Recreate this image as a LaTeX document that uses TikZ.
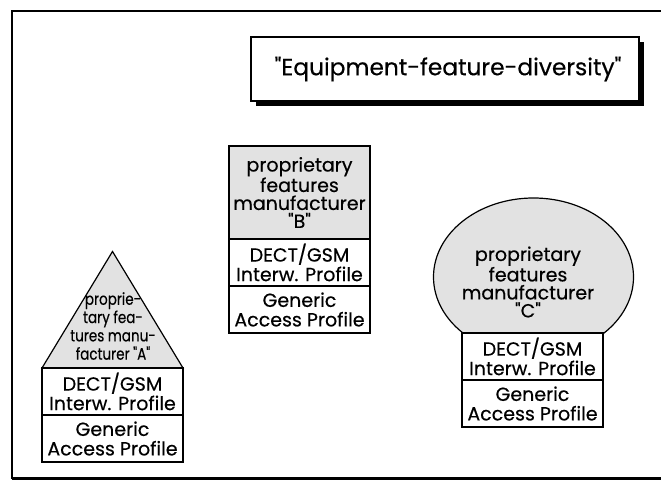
\documentclass[tikz,border=0pt]{standalone}
\usepackage{fontspec}
\setmainfont{Poppins}[Ligatures=TeXOff, FakeBold=0.4]
\newfontfamily\narrowfont{Poppins}[Ligatures=TeXOff, FakeBold=0.4, FakeStretch=0.82]
\usetikzlibrary{shapes.geometric}
\newcommand{\layerfont}{\fontsize{19}{19.5}\selectfont}
\newcommand{\propfont}{\fontsize{19}{18}\selectfont}
\newcommand{\tipfont}{\narrowfont\fontsize{16.5}{18.3}\selectfont}
\newcommand{\titlefont}{\fontsize{23.3}{26}\selectfont}
\definecolor{propgray}{RGB}{226,226,226}
\begin{document}
\begin{tikzpicture}[x=1pt,y=-1pt,
  edge/.style={line width=1.2pt},
  layer/.style={draw, edge, fill=white, minimum width=141pt,
    minimum height=47pt, inner sep=0pt, align=center, font=\layerfont},
  propbox/.style={draw, edge, fill=propgray, minimum width=141pt,
    minimum height=93pt, inner sep=0pt, align=center, font=\propfont},
  proptext/.style={inner sep=0pt, align=center, font=\propfont},
  tiptext/.style={inner sep=0pt, align=center, font=\tipfont},
  titlebox/.style={draw, edge, fill=white, minimum width=388pt,
    minimum height=64pt, inner sep=0pt},
  shadow/.style={fill=black, minimum width=388pt, minimum height=64pt, inner sep=0pt}]
\useasboundingbox (0,0) rectangle (661,481);

% outer frame with heavy bottom edge
\fill[white] (0,0) rectangle (661,481);
\draw[line width=1.3pt] (663,11) -- (12,11) -- (12,478) -- (663,478);
\fill[black] (12,476.5) rectangle (663,480);

% title with drop shadow
\node[shadow] (tshadow) at (450,74) {};
\node[titlebox] (title) at (445,69) {};
\node[inner sep=0pt, font=\titlefont] (ttext) at (448,69) {"Equipment-feature-diversity"};

% manufacturer A: triangle on two profile layers
\coordinate (aleft) at (42,368);
\coordinate (aright) at (183,368);
\coordinate (atop) at (112.5,251.5);
\draw[edge, fill=propgray] (aleft) -- (atop) -- (aright) -- cycle;
\node[tiptext] (aprop) at (113,326) {proprie-\\tary fea-\\tures manu-\\facturer "A"};
\node[layer] (adect) at (112.5,391.5) {DECT/GSM\\Interw. Profile};
\node[layer] (agap) at (112.5,438.5) {Generic\\Access Profile};

% manufacturer B: box on two profile layers
\node[propbox] (bprop) at (299.5,192.5) {proprietary\\features\\manufacturer\\"B"};
\node[layer] (bdect) at (299.5,262.5) {DECT/GSM\\Interw. Profile};
\node[layer] (bgap) at (299.5,309.5) {Generic\\Access Profile};

% manufacturer C: ellipse on two profile layers
\node[ellipse, draw, edge, fill=propgray, minimum width=200pt,
  minimum height=158pt, inner sep=0pt] (cprop) at (533.5,277) {};
\node[proptext] (ctext) at (528,282) {proprietary\\features\\manufacturer\\"C"};
\node[layer] (cdect) at (532.5,356.5) {DECT/GSM\\Interw. Profile};
\node[layer] (cgap) at (532.5,403.5) {Generic\\Access Profile};
\end{tikzpicture}
\end{document}
